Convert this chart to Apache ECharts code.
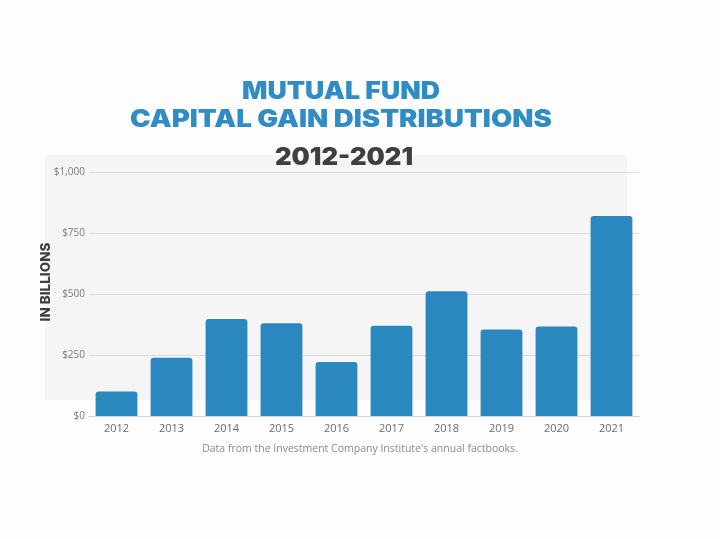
<!DOCTYPE html>
<html>
<head>
<meta charset="utf-8">
<script src="https://cdn.jsdelivr.net/npm/echarts@6/dist/echarts.min.js"></script>
<style>
    html, body { margin: 0; padding: 0; background: #fdfdfd; }
    #chart { width: 720px; height: 539px; }
</style>
</head>
<body>
<div id="chart"></div>
<script>
    // values, billions of dollars
    var years = ['2012', '2013', '2014', '2015', '2016', '2017', '2018', '2019', '2020', '2021'];
    var distributions = [100, 239, 398, 380, 221, 370, 511, 355, 367, 820];
    var yTicks = {min: 0, max: 1000, interval: 250};

    var blue = '#2b88be';
    var titleFont = '900 24px Inter';
    var chart = echarts.init(document.getElementById('chart'));

    chart.setOption({
        backgroundColor: '#fdfdfd',
        animation: false,
        graphic: [
            {   // light panel behind the plot
                type: 'rect', z: -10,
                shape: {x: 45, y: 155, width: 582, height: 245},
                style: {fill: '#f5f5f5'}
            },
            {   // title lines, stretched a little to match the wide display face
                type: 'text', x: 341, y: 92, scaleX: 1.11,
                style: {text: 'MUTUAL FUND', fill: '#2f8cc4', font: titleFont, align: 'center', verticalAlign: 'middle'}
            },
            {
                type: 'text', x: 341, y: 120, scaleX: 1.15,
                style: {text: 'CAPITAL GAIN DISTRIBUTIONS', fill: '#2f8cc4', font: titleFont, align: 'center', verticalAlign: 'middle'}
            },
            {
                type: 'text', x: 344, y: 158, scaleX: 1.07,
                style: {text: '2012-2021', fill: '#3f3f3f', font: titleFont, align: 'center', verticalAlign: 'middle'}
            },
            {   // y axis name
                type: 'text', x: 46, y: 282, rotation: Math.PI / 2,
                style: {text: 'IN BILLIONS', fill: '#3f3f3f', font: '800 13.5px Inter', align: 'center', verticalAlign: 'middle'}
            },
            {
                type: 'text', x: 360, y: 449,
                style: {text: "Data from the Investment Company Institute's annual factbooks.", fill: '#8a8a8a',
                    font: '10.5px "Open Sans"', align: 'center', verticalAlign: 'middle'}
            }
        ],
        grid: {left: 89, right: 81, top: 172, height: 244, containLabel: false},
        xAxis: {
            type: 'category',
            data: years,
            axisTick: {show: false},
            axisLine: {lineStyle: {color: '#d5d5d5'}},
            axisLabel: {color: '#6a6a6a', fontSize: 11, fontFamily: 'Open Sans', margin: 7}
        },
        yAxis: {
            type: 'value',
            min: yTicks.min, max: yTicks.max, interval: yTicks.interval,
            axisLabel: {
                color: '#7a7a7a', fontSize: 10, fontFamily: 'Open Sans', margin: 4,
                formatter: function (v) { return '$' + v.toLocaleString('en-US'); }
            },
            splitLine: {lineStyle: {color: '#dcdcdc', width: 1}}
        },
        series: [{
            type: 'bar',
            data: distributions,
            barWidth: '76%',
            itemStyle: {color: blue, borderRadius: [3, 3, 0, 0]}
        }]
    });
</script>
</body>
</html>
